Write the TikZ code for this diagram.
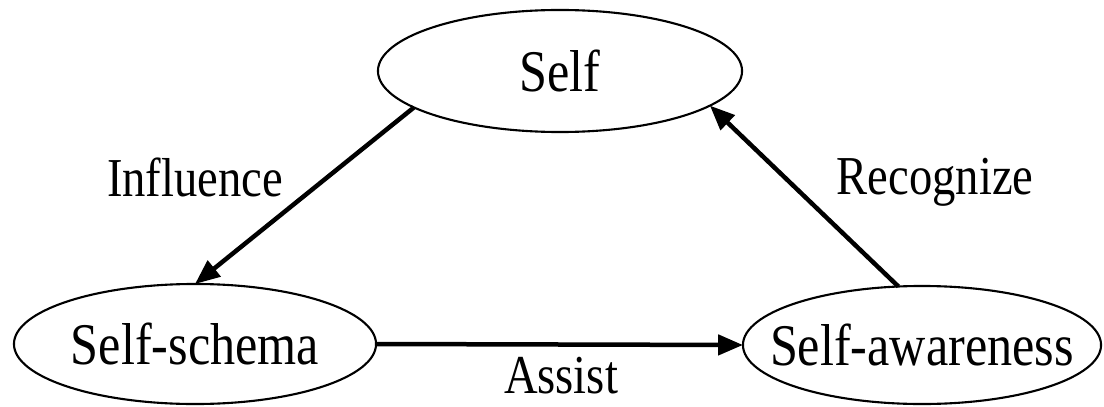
\documentclass[tikz,border=0pt]{standalone}
\usepackage{fontspec}
\setmainfont{Liberation Serif}[FakeStretch=0.85]
\usetikzlibrary{shapes.geometric,arrows.meta}
\tikzset{
  ell/.style={draw, ellipse, line width=1.5pt, inner sep=0pt, outer sep=0pt, font=\fontsize{42}{48}\selectfont},
  lbl/.style={font=\fontsize{39}{46}\selectfont, inner sep=0pt, anchor=base},
  arr/.style={line width=3.2pt, -{Triangle[length=0.62cm, width=0.5cm]}}
}

\begin{document}
\begin{tikzpicture}[x=0.025cm, y=-0.025cm]
      \useasboundingbox (0, 0) rectangle (1104, 407);

      \node[ell, minimum width=9.1cm, minimum height=3.05cm] (self) at (560, 71) {\makebox[0pt]{Self}};
      \node[ell, minimum width=9.05cm, minimum height=3.0cm] (schema) at (195, 344) {\makebox[0pt]{Self-schema}};
      \node[ell, minimum width=8.95cm, minimum height=2.95cm] (aware) at (922, 345) {\makebox[0pt]{Self-awareness}};

      \node[lbl] (infl) at (195, 196) {Influence};
      \node[lbl] (recog) at (935, 194) {Recognize};
      \node[lbl] (assist) at (561, 393) {Assist};

      \draw [arr] (self.194) -- (schema.north); 
      \draw [arr] (aware.112) -- (self.-13); 
      \draw [arr] (schema.east) -- (aware.west); 
    \end{tikzpicture}
\end{document}
